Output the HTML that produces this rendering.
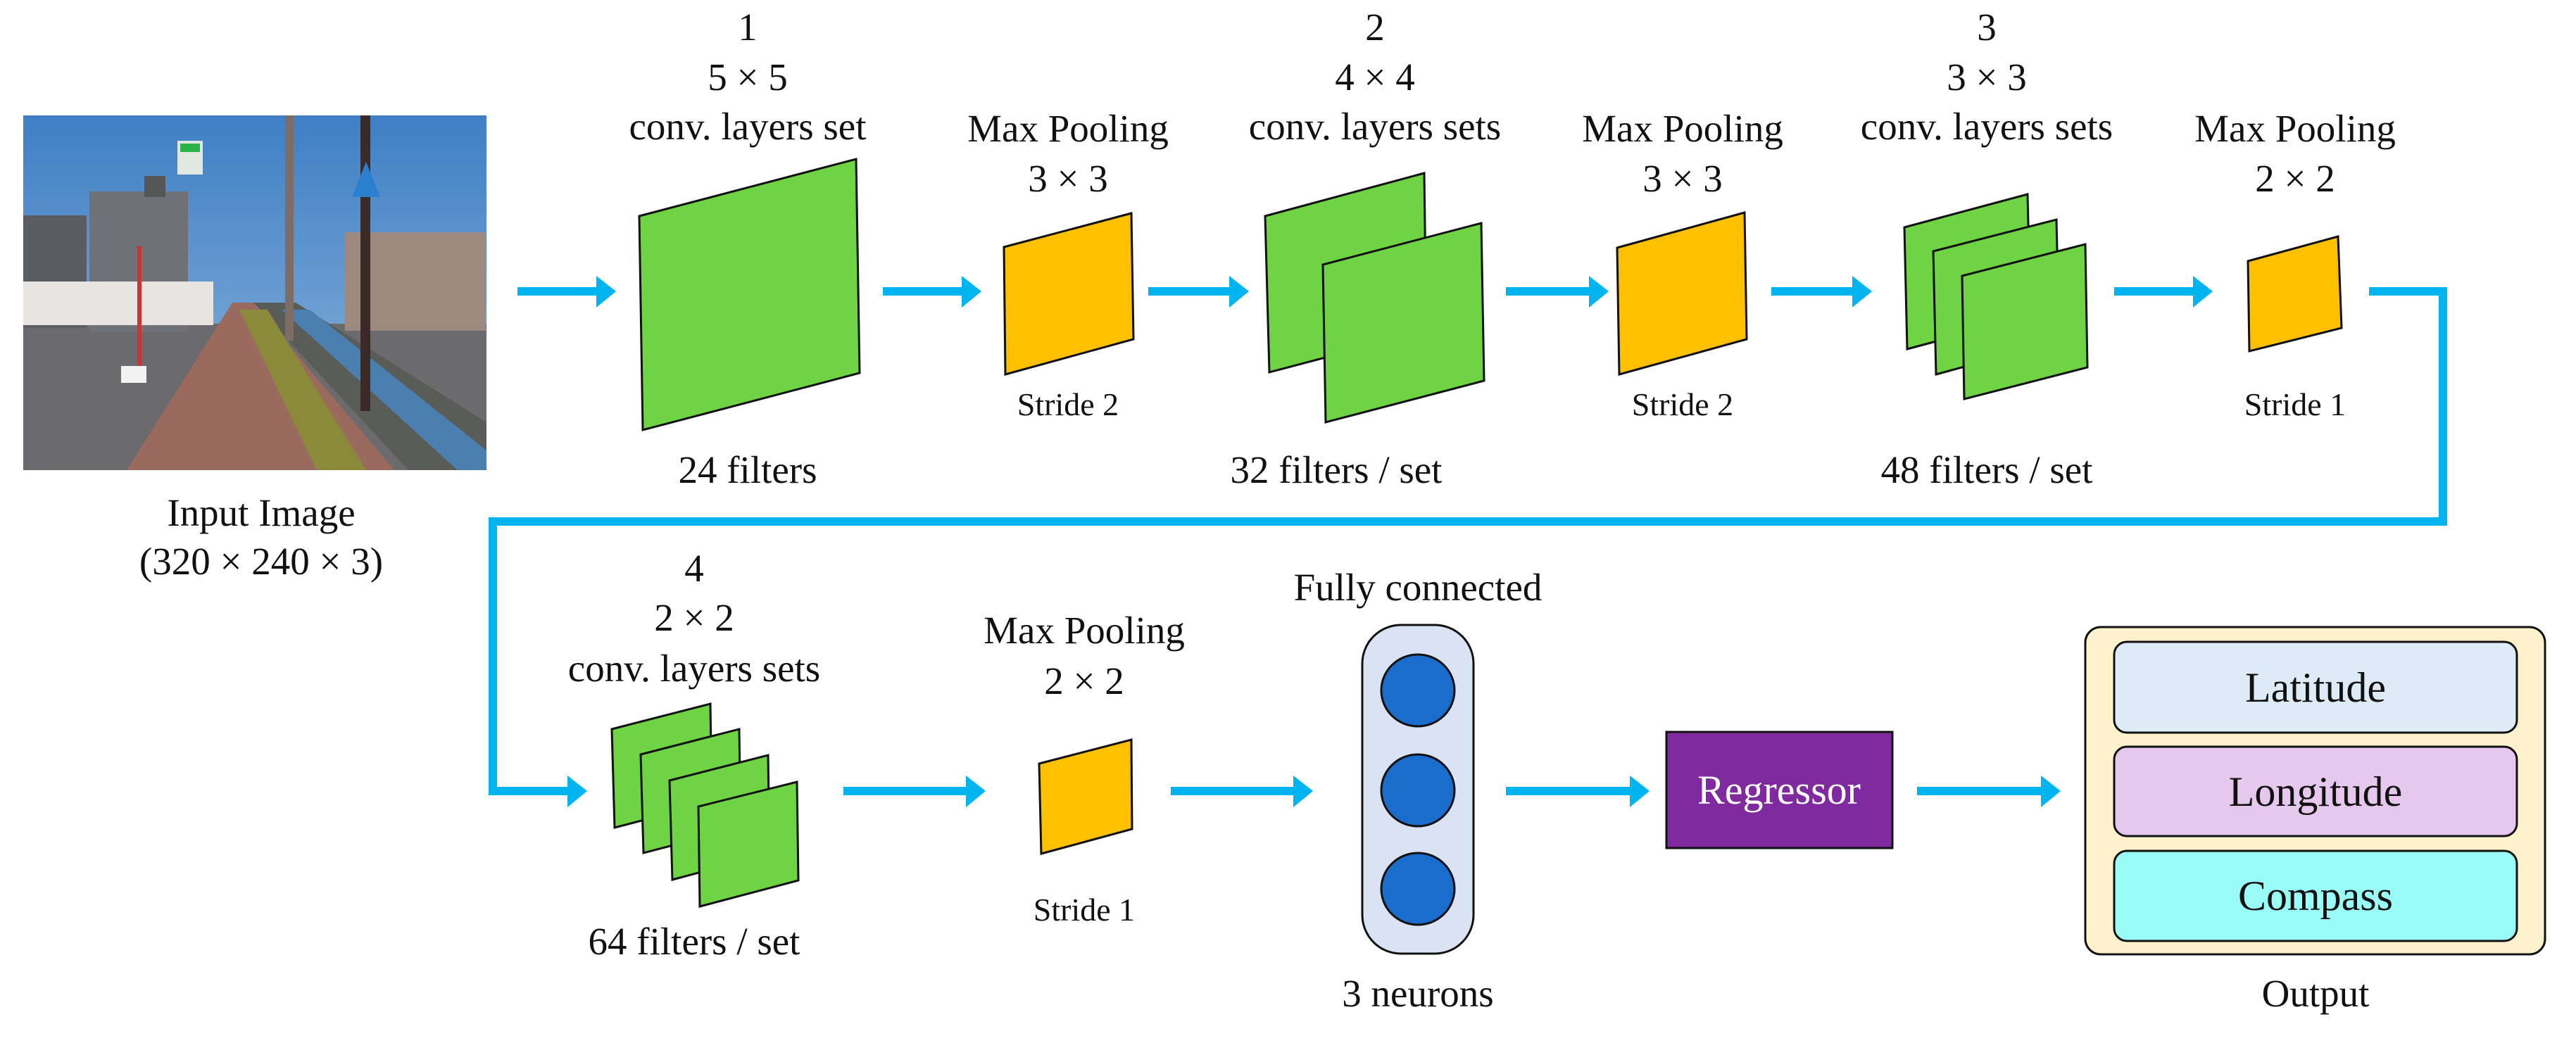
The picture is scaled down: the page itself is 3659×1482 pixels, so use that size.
<!DOCTYPE html>
<html><head><meta charset="utf-8"><style>html,body{margin:0;padding:0;background:#fff}svg{display:block}svg text{font-family:"Liberation Serif",serif}</style></head>
<body>
<svg width="3659" height="1482" viewBox="0 0 3659 1482" xmlns="http://www.w3.org/2000/svg" font-family="Liberation Serif, serif" fill="#111">
<defs>
<linearGradient id="sky" x1="0" y1="0" x2="0" y2="1"><stop offset="0" stop-color="#3f7fc4"/><stop offset="1" stop-color="#8fb7dc"/></linearGradient>
</defs>
<g>
<rect x="33" y="164" width="658" height="504" fill="url(#sky)"/>
<rect x="33" y="460" width="658" height="208" fill="#6b6a6d"/>
<polygon points="180,668 330,430 360,430 560,668" fill="#9a6a5e"/>
<polygon points="360,430 420,430 691,600 691,668 580,668" fill="#5a5c58"/>
<polygon points="400,440 440,440 691,640 691,668 650,668" fill="#4a7fb0"/>
<rect x="33" y="306" width="90" height="160" fill="#5c5d63"/>
<rect x="127" y="272" width="140" height="200" fill="#6f7176"/>
<rect x="205" y="250" width="30" height="30" fill="#555"/>
<rect x="33" y="400" width="270" height="62" fill="#e8e4e2"/>
<rect x="490" y="330" width="200" height="140" fill="#9c8a80"/>
<polygon points="340,440 380,440 520,668 450,668" fill="#8a8a3a"/>
<rect x="405" y="164" width="12" height="320" fill="#7d6d66"/>
<rect x="512" y="164" width="14" height="420" fill="#3a2a28"/>
<rect x="252" y="200" width="36" height="48" fill="#dfe8e0"/><rect x="256" y="204" width="28" height="12" fill="#2bb34a"/>
<polygon points="520,230 540,280 500,280" fill="#2a7fd0"/>
<rect x="195" y="350" width="6" height="180" fill="#c33"/>
<rect x="172" y="520" width="36" height="24" fill="#f2f2f2"/>
</g>
<text x="371" y="747" font-size="55" text-anchor="middle">Input Image</text>
<text x="371" y="816" font-size="55" text-anchor="middle">(320 × 240 × 3)</text>

<g font-size="55" text-anchor="middle">
<text x="1062" y="57">1</text><text x="1062" y="128">5 × 5</text><text x="1062" y="198">conv. layers set</text>
<text x="1517" y="201">Max Pooling</text><text x="1517" y="272">3 × 3</text>
<text x="1953" y="57">2</text><text x="1953" y="128">4 × 4</text><text x="1953" y="198">conv. layers sets</text>
<text x="2390" y="201">Max Pooling</text><text x="2390" y="272">3 × 3</text>
<text x="2822" y="57">3</text><text x="2822" y="128">3 × 3</text><text x="2822" y="198">conv. layers sets</text>
<text x="3260" y="201">Max Pooling</text><text x="3260" y="272">2 × 2</text>
<text x="1062" y="686">24 filters</text>
<text x="1898" y="686">32 filters / set</text>
<text x="2822" y="686">48 filters / set</text>
<text x="986" y="826">4</text><text x="986" y="896">2 × 2</text><text x="986" y="968">conv. layers sets</text>
<text x="1540" y="914">Max Pooling</text><text x="1540" y="986">2 × 2</text>
<text x="2014" y="853">Fully connected</text>
<text x="986" y="1356">64 filters / set</text>
<text x="2014" y="1430">3 neurons</text>
<text x="3289" y="1430">Output</text>
</g>
<g font-size="46" text-anchor="middle">
<text x="1517" y="590">Stride 2</text><text x="2390" y="590">Stride 2</text><text x="3260" y="590">Stride 1</text>
<text x="1540" y="1308">Stride 1</text>
</g>

<g stroke="#111" stroke-width="3" stroke-linejoin="miter">
<polygon points="908,307 1216,226 1221,530 913,611" fill="#6fd444"/>
<polygon points="1426,351 1607,303 1610,482 1428,532" fill="#ffc000"/>
<polygon points="1797,307 2023,246 2026,470 1803,529" fill="#6fd444"/>
<polygon points="1879,376 2104,317 2108,541 1883,600" fill="#6fd444"/>
<polygon points="2297,352 2478,302 2481,482 2300,532" fill="#ffc000"/>
<polygon points="2705,323 2880,276 2884,449 2709,496" fill="#6fd444"/>
<polygon points="2746,357 2921,312 2925,484 2750,532" fill="#6fd444"/>
<polygon points="2787,392 2962,347 2965,522 2790,567" fill="#6fd444"/>
<polygon points="3193,371 3321,336 3326,466 3195,499" fill="#ffc000"/>
<polygon points="869,1036 1009,1000 1011,1140 873,1176" fill="#6fd444"/>
<polygon points="910,1072 1050,1036 1052,1176 914,1212" fill="#6fd444"/>
<polygon points="951,1109 1091,1073 1093,1213 955,1250" fill="#6fd444"/>
<polygon points="992,1146 1132,1111 1134,1251 994,1288" fill="#6fd444"/>
<polygon points="1476,1085 1607,1051 1608,1178 1479,1213" fill="#ffc000"/>
<rect x="1935" y="888" width="158" height="467" rx="55" fill="#dae3f3"/>
<ellipse cx="2014" cy="981" rx="52" ry="51" fill="#1a6dcc"/>
<ellipse cx="2014" cy="1123" rx="52" ry="51" fill="#1a6dcc"/>
<ellipse cx="2014" cy="1263" rx="52" ry="51" fill="#1a6dcc"/>
<rect x="2367" y="1040" width="321" height="165" fill="#7f2a9e"/>
<rect x="2962" y="891" width="653" height="465" rx="22" fill="#fff2cc"/>
<rect x="3003" y="912" width="572" height="129" rx="18" fill="#deebf7"/>
<rect x="3003" y="1061" width="572" height="127" rx="18" fill="#e6c8ee"/>
<rect x="3003" y="1209" width="572" height="128" rx="18" fill="#9afcf7"/>
</g>
<text x="2527" y="1142" font-size="58" text-anchor="middle" fill="#fff">Regressor</text>
<g font-size="60" text-anchor="middle">
<text x="3289" y="997">Latitude</text><text x="3289" y="1145">Longitude</text><text x="3289" y="1293">Compass</text>
</g>

<g stroke="#00b4f0" stroke-width="12" fill="none">
<line x1="735" y1="414" x2="850" y2="414"/>
<line x1="1254" y1="414" x2="1370" y2="414"/>
<line x1="1631" y1="414" x2="1750" y2="414"/>
<line x1="2139" y1="414" x2="2260" y2="414"/>
<line x1="2516" y1="414" x2="2635" y2="414"/>
<line x1="3003" y1="414" x2="3118" y2="414"/>
<polyline points="3365,414 3470,414 3470,741 700,741 700,1124 810,1124"/>
<line x1="1198" y1="1124" x2="1376" y2="1124"/>
<line x1="1663" y1="1124" x2="1841" y2="1124"/>
<line x1="2139" y1="1124" x2="2319" y2="1124"/>
<line x1="2723" y1="1124" x2="2903" y2="1124"/>
</g>
<g fill="#00b4f0">
<polygon points="847,392 875,414 847,437"/>
<polygon points="1366,392 1394,414 1366,437"/>
<polygon points="1746,392 1774,414 1746,437"/>
<polygon points="2257,392 2285,414 2257,437"/>
<polygon points="2631,392 2659,414 2631,437"/>
<polygon points="3115,392 3143,414 3115,437"/>
<polygon points="806,1102 834,1124 806,1147"/>
<polygon points="1372,1102 1400,1124 1372,1147"/>
<polygon points="1837,1102 1865,1124 1837,1147"/>
<polygon points="2315,1102 2343,1124 2315,1147"/>
<polygon points="2899,1102 2927,1124 2899,1147"/>
</g>
</svg>
</body></html>
